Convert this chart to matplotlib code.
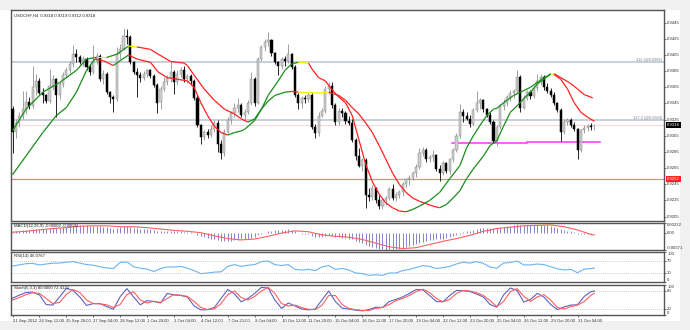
import numpy as np
import matplotlib.pyplot as plt
from matplotlib.collections import LineCollection
from matplotlib.transforms import blended_transform_factory

# USDCHF H4 candles, bar 0 = 21 Sep 2012
opens = [
    .9338, .9310, .9321, .9330, .9338, .9347, .9342, .9365, .9373, .9358,
    .9355, .9348, .9367, .9375, .9355, .9369, .9380, .9386, .9394, .9406,
    .9403, .9396, .9400, .9390, .9384, .9398, .9404, .9375, .9382, .9359,
    .9353, .9351, .9406, .9413, .9429, .9427, .9396, .9384, .9380, .9376,
    .9382, .9386, .9379, .9368, .9347, .9363, .9372, .9376, .9384, .9372,
    .9382, .9387, .9375, .9379, .9373, .9352, .9318, .9303, .9310, .9306,
    .9314, .9321, .9295, .9284, .9310, .9325, .9333, .9340, .9343, .9331,
    .9334, .9346, .9375, .9346, .9400, .9415, .9421, .9423, .9407, .9396,
    .9392, .9400, .9398, .9406, .9390, .9356, .9345, .9352, .9350, .9356,
    .9316, .9309, .9330, .9336, .9363, .9367, .9343, .9322, .9336, .9333,
    .9323, .9321, .9300, .9280, .9268, .9275, .9232, .9229, .9240, .9226,
    .9218, .9225, .9228, .9239, .9228, .9232, .9235, .9245, .9251, .9253,
    .9259, .9267, .9284, .9288, .9276, .9279, .9281, .9264, .9259, .9271,
    .9262, .9276, .9288, .9305, .9334, .9330, .9326, .9320, .9337, .9346,
    .9349, .9338, .9331, .9322, .9299, .9316, .9342, .9346, .9353, .9358,
    .9361, .9378, .9340, .9352, .9359, .9354, .9364, .9373, .9378, .9365,
    .9361, .9356, .9345, .9337, .9310, .9322, .9324, .9318, .9313, .9288,
    .9312, .9315, .9317, .9318,
]
highs = [
    .9342, .9326, .9334, .9361, .9361, .9353, .9392, .9382, .9376, .9364,
    .9357, .9388, .9380, .9377, .9371, .9384, .9390, .9398, .9417, .9412,
    .9405, .9404, .9402, .9394, .9417, .9408, .9406, .9386, .9384, .9361,
    .9356, .9415, .9419, .9439, .9437, .9430, .9398, .9389, .9384, .9385,
    .9388, .9388, .9382, .9370, .9367, .9378, .9380, .9398, .9386, .9386,
    .9390, .9391, .9382, .9381, .9375, .9355, .9320, .9312, .9313, .9318,
    .9325, .9324, .9300, .9314, .9328, .9336, .9345, .9352, .9345, .9338,
    .9349, .9384, .9378, .9403, .9418, .9425, .9433, .9425, .9409, .9398,
    .9402, .9404, .9419, .9408, .9393, .9358, .9354, .9356, .9358, .9358,
    .9320, .9334, .9340, .9367, .9371, .9372, .9345, .9340, .9340, .9336,
    .9330, .9326, .9302, .9290, .9278, .9277, .9241, .9244, .9242, .9232,
    .9228, .9230, .9242, .9246, .9235, .9238, .9248, .9253, .9256, .9262,
    .9270, .9290, .9291, .9290, .9281, .9288, .9283, .9269, .9274, .9273,
    .9278, .9290, .9309, .9344, .9338, .9334, .9331, .9340, .9361, .9352,
    .9351, .9340, .9334, .9324, .9318, .9344, .9350, .9356, .9362, .9363,
    .9386, .9380, .9355, .9362, .9362, .9367, .9382, .9381, .9380, .9370,
    .9364, .9359, .9347, .9339, .9326, .9327, .9327, .9322, .9315, .9314,
    .9318, .9320, .9321, .9319,
]
lows = [
    .9284, .9302, .9316, .9326, .9332, .9338, .9340, .9356, .9357, .9346,
    .9345, .9346, .9362, .9328, .9350, .9366, .9376, .9383, .9390, .9396,
    .9394, .9392, .9387, .9380, .9382, .9394, .9373, .9369, .9357, .9346,
    .9334, .9348, .9400, .9411, .9419, .9394, .9382, .9353, .9372, .9374,
    .9378, .9377, .9365, .9333, .9338, .9360, .9368, .9372, .9357, .9369,
    .9378, .9371, .9370, .9368, .9349, .9316, .9295, .9300, .9302, .9303,
    .9310, .9285, .9276, .9280, .9308, .9320, .9328, .9335, .9328, .9324,
    .9332, .9343, .9342, .9344, .9397, .9410, .9416, .9404, .9394, .9380,
    .9388, .9392, .9395, .9388, .9353, .9338, .9340, .9346, .9347, .9313,
    .9302, .9305, .9328, .9333, .9357, .9340, .9318, .9318, .9328, .9320,
    .9318, .9297, .9275, .9266, .9262, .9216, .9224, .9226, .9222, .9214,
    .9215, .9220, .9225, .9226, .9224, .9228, .9230, .9242, .9244, .9250,
    .9254, .9264, .9280, .9272, .9272, .9274, .9262, .9249, .9256, .9259,
    .9258, .9273, .9285, .9302, .9322, .9324, .9316, .9318, .9334, .9338,
    .9335, .9328, .9320, .9296, .9293, .9314, .9337, .9342, .9348, .9352,
    .9358, .9334, .9338, .9349, .9351, .9352, .9361, .9368, .9362, .9358,
    .9353, .9343, .9334, .9299, .9307, .9318, .9316, .9311, .9276, .9285,
    .9309, .9311, .9312, .9312,
]
closes = [
    .9310, .9321, .9330, .9338, .9347, .9342, .9365, .9373, .9358, .9355,
    .9348, .9367, .9375, .9355, .9369, .9380, .9386, .9394, .9406, .9403,
    .9396, .9400, .9390, .9384, .9398, .9404, .9375, .9382, .9359, .9353,
    .9351, .9406, .9413, .9429, .9427, .9396, .9384, .9380, .9376, .9382,
    .9386, .9379, .9368, .9346, .9363, .9372, .9377, .9384, .9372, .9382,
    .9387, .9375, .9379, .9373, .9352, .9318, .9303, .9310, .9306, .9314,
    .9321, .9295, .9284, .9310, .9325, .9333, .9340, .9343, .9331, .9334,
    .9346, .9375, .9346, .9400, .9415, .9421, .9423, .9407, .9396, .9392,
    .9400, .9398, .9406, .9390, .9356, .9345, .9352, .9350, .9356, .9316,
    .9309, .9330, .9336, .9363, .9367, .9343, .9322, .9336, .9333, .9323,
    .9321, .9300, .9280, .9268, .9275, .9232, .9229, .9240, .9226, .9218,
    .9225, .9228, .9239, .9228, .9232, .9235, .9245, .9251, .9253, .9259,
    .9267, .9284, .9288, .9276, .9279, .9281, .9264, .9259, .9271, .9262,
    .9276, .9288, .9305, .9334, .9330, .9326, .9320, .9337, .9346, .9349,
    .9338, .9331, .9322, .9299, .9316, .9342, .9346, .9353, .9358, .9361,
    .9378, .9340, .9352, .9359, .9354, .9364, .9373, .9378, .9365, .9361,
    .9356, .9345, .9337, .9310, .9322, .9324, .9318, .9313, .9288, .9312,
    .9315, .9317, .9316, .9318,
]

# two slope-coloured moving averages, sampled at the bars given
ma_fast_bars = [0, 4, 9, 13, 16, 19, 22, 24.5, 27, 30, 32, 34.5, 37, 41, 43.3, 46, 49, 52,
                54, 56, 58, 60, 62, 64, 66, 68, 69, 72, 74, 76, 79, 81, 83, 85, 88, 89,
                91, 93, 95, 97, 99, 101, 103, 105, 107, 109, 111, 113, 115, 117, 119, 121,
                124, 127, 130, 133, 135, 137, 139, 141, 143, 144, 146, 149, 152, 154, 156,
                158, 160, 161, 163, 165, 167, 169, 171, 173]
ma_fast = [.9257, .9280, .9309, .9330, .9340, .9359, .9386, .9400, .9398, .9392, .9398,
           .9405, .9400, .9396, .9384, .9377, .9375, .9373, .9365, .9346, .9330, .9317,
           .9309, .9306, .9309, .9311, .9313, .9324, .9338, .9355, .9373, .9386, .9394,
           .9396, .9395, .9388, .9377, .9373, .9362, .9353, .9346, .9330, .9300, .9270,
           .9248, .9233, .9222, .9216, .9212, .9211, .9214, .9218, .9225, .9235, .9252,
           .9268, .9290, .9305, .9318, .9330, .9338, .9339, .9346, .9355, .9361, .9365,
           .9371, .9377, .9381, .9381, .9375, .9363, .9346, .9334, .9328, .9323]
ma_slow_bars = [0, 4, 9, 14, 19, 22, 25, 28, 31, 34.5, 37, 41, 43.3, 45, 47, 49, 51, 52,
                54, 57, 60, 63, 66, 68, 70, 72, 74, 76, 78, 81, 83, 85, 88, 91, 94, 97,
                99, 101, 103, 105, 107, 109, 111, 113, 115, 117, 119, 121, 123, 125, 127,
                129, 131, 133, 135, 137, 140, 142, 144, 146, 148, 150, 152, 154, 156, 158,
                160, 161, 163, 165.5, 168, 170, 172.5]
ma_slow = [.9311, .9338, .9359, .9371, .9386, .9400, .9402, .9402, .9406, .9416, .9415,
           .9412, .9406, .9402, .9397, .9396, .9395, .9392, .9380, .9363, .9349, .9338,
           .9332, .9326, .9322, .9326, .9338, .9348, .9355, .9359, .9360, .9359, .9359,
           .9358, .9359, .9355, .9349, .9340, .9332, .9321, .9309, .9293, .9276, .9259,
           .9245, .9235, .9228, .9224, .9221, .9218, .9216, .9220, .9228, .9237, .9252,
           .9264, .9280, .9293, .9299, .9317, .9334, .9342, .9351, .9359, .9369, .9375,
           .9382, .9382, .9377, .9371, .9363, .9356, .9352]

# MACD(12,26,9): main line per bar, signal line sampled every 4 bars
macd_main = [
    .0003, .0004, .0005, .0006, .0007, .0007, .0009, .0010, .0010, .0010,
    .0010, .0011, .0012, .0011, .0012, .0013, .0014, .0015, .0016, .0017,
    .0017, .0017, .0017, .0016, .0016, .0016, .0015, .0014, .0013, .0011,
    .0010, .0011, .0013, .0015, .0016, .0014, .0012, .0011, .0010, .0009,
    .0009, .0008, .0007, .0005, .0005, .0005, .0005, .0005, .0004, .0004,
    .0004, .0003, .0003, .0002, .0000, -.0004, -.0007, -.0009, -.0011, -.0012,
    -.0012, -.0015, -.0018, -.0018, -.0017, -.0017, -.0016, -.0015, -.0014, -.0013,
    -.0012, -.0010, -.0008, -.0005, -.0002, .0001, .0004, .0005, .0006, .0006,
    .0007, .0007, .0008, .0007, .0004, .0001, -.0001, -.0002, -.0003, -.0006,
    -.0008, -.0008, -.0008, -.0006, -.0005, -.0006, -.0008, -.0009, -.0010, -.0011,
    -.0012, -.0014, -.0017, -.0020, -.0022, -.0026, -.0029, -.0031, -.0033, -.0035,
    -.0036, -.0037, -.0036, -.0036, -.0035, -.0034, -.0032, -.0031, -.0029, -.0027,
    -.0025, -.0022, -.0020, -.0018, -.0016, -.0015, -.0014, -.0013, -.0012, -.0011,
    -.0009, -.0007, -.0004, -.0001, .0002, .0004, .0005, .0007, .0009, .0011,
    .0012, .0012, .0012, .0011, .0011, .0013, .0014, .0015, .0016, .0017,
    .0019, .0018, .0017, .0017, .0017, .0017, .0018, .0018, .0018, .0017,
    .0016, .0014, .0012, .0009, .0007, .0005, .0004, .0002, -.0001, -.0002,
    -.0002, -.0002, -.0001, -.00002,
]
macd_signal_bars = [0, 4, 8, 12, 16, 20, 24, 28, 32, 36, 40, 44, 48, 52, 56, 60, 64, 68,
                    72, 76, 80, 84, 88, 92, 96, 100, 104, 108, 112, 116, 120, 124, 128,
                    132, 136, 140, 144, 148, 152, 156, 160, 164, 168, 172, 173]
macd_signal = [.0002, .0004, .0007, .0010, .0012, .0015, .0016, .0016, .0014, .0014,
               .0012, .0009, .0006, .0004, .0001, -.0006, -.0012, -.0015, -.0013, -.0007,
               .0000, .0005, .0003, -.0004, -.0007, -.0009, -.0014, -.0022, -.0030,
               -.0034, -.0032, -.0025, -.0018, -.0012, -.0005, .0004, .0010, .0013,
               .0016, .0017, .0018, .0014, .0007, -.0003, -.00041]

# RSI(14) and Stoch(5,3,3), sampled every 2 bars
osc_bars = list(range(0, 173, 2)) + [173]
rsi = [53, 57, 61, 62, 57, 60, 63, 63, 66, 68, 63, 58, 56, 51, 47, 45, 65, 67, 51, 46,
       43, 35, 45, 50, 50, 52, 46, 38, 28, 30, 33, 34, 52, 58, 52, 56, 58, 68, 70, 58,
       55, 58, 42, 40, 42, 38, 50, 55, 42, 45, 40, 30, 28, 22, 24, 22, 30, 30, 38, 42,
       48, 55, 52, 45, 48, 52, 60, 66, 63, 68, 62, 50, 46, 63, 65, 70, 57, 57, 60, 58,
       51, 44, 40, 42, 31, 43, 45, 46.0767]
stoch_main = [56, 66, 75, 76, 67, 35, 33, 60, 89, 82, 60, 32, 38, 38, 28, 19, 61, 88, 60,
              34, 48, 45, 40, 72, 67, 65, 60, 30, 17, 18, 25, 55, 85, 70, 44, 55, 72, 92,
              90, 50, 22, 40, 30, 20, 17, 20, 50, 80, 45, 23, 20, 16, 14, 18, 26, 25, 45,
              52, 60, 72, 85, 84, 65, 45, 44, 65, 82, 81, 78, 70, 60, 35, 26, 67, 90, 82,
              43, 52, 72, 60, 35, 18, 27, 33, 34, 62, 78, 80.0]
stoch_signal = [50, 58, 68, 74, 72, 55, 38, 42, 68, 85, 75, 50, 38, 37, 34, 25, 35, 68, 78,
                50, 40, 46, 42, 55, 68, 66, 62, 45, 25, 18, 20, 38, 68, 80, 58, 50, 62, 80,
                92, 72, 38, 30, 33, 25, 19, 18, 32, 65, 65, 35, 22, 18, 15, 15, 22, 25, 35,
                48, 55, 65, 78, 86, 75, 55, 44, 52, 72, 82, 80, 74, 65, 48, 28, 45, 78, 88,
                62, 45, 60, 68, 50, 25, 20, 28, 33, 45, 66, 72.4131]

price_ticks = [0.9445, 0.9425, 0.9405, 0.9385, 0.9365, 0.9345, 0.9325, 0.9305,
               0.9285, 0.9265, 0.9245, 0.9225, 0.9205]
date_labels = ['21 Sep 2012', '24 Sep 12:00', '25 Sep 20:00', '27 Sep 04:00', '28 Sep 12:00',
               '1 Oct 20:00', '3 Oct 04:00', '4 Oct 12:00', '7 Oct 21:00', '9 Oct 04:00',
               '10 Oct 12:00', '11 Oct 20:00', '15 Oct 04:00', '16 Oct 12:00', '17 Oct 20:00',
               '19 Oct 04:00', '22 Oct 12:00', '23 Oct 20:00', '25 Oct 04:00', '26 Oct 12:00',
               '29 Oct 20:00', '31 Oct 04:00']

W, H = 690, 330
FS = 3.1
plt.rcParams['font.family'] = ['Liberation Sans', 'DejaVu Sans']

fig = plt.figure(figsize=(W / 100, H / 100), dpi=100, facecolor='#f0f0f0')
fig.patches.append(plt.Rectangle((0, 1 - 321 / H), 680 / W, 311 / H, transform=fig.transFigure,
                                 facecolor='white', edgecolor='none', zorder=-10))


def panel(y0, y1):
    ax = fig.add_axes([11 / W, 1 - y1 / H, (664 - 11) / W, (y1 - y0) / H])
    ax.set_xlim(-0.45, 193.7)
    ax.set_xticks([])
    for s in ax.spines.values():
        s.set_color('#555555')
        s.set_linewidth(1.0)
    ax.yaxis.tick_right()
    ax.tick_params(axis='y', length=1.5, width=0.5, labelright=False, color='#303030')
    return ax


def right_labels(ax, values, texts):
    """Tick marks plus price-scale labels; edge labels are tucked inside the window."""
    ax.set_yticks(values)
    lo, hi = ax.get_ylim()
    tr = blended_transform_factory(ax.transAxes, ax.transData)
    for v, t in zip(values, texts):
        va = 'top' if v >= hi else ('bottom' if v <= lo else 'center')
        ax.text(1.005, v, t, transform=tr, ha='left', va=va, fontsize=FS,
                color='#303030', clip_on=False)


def slope_line(ax, xs, ys):
    xs = np.asarray(xs, float)
    ys = np.asarray(ys, float)
    segs = np.stack([np.column_stack([xs[:-1], ys[:-1]]), np.column_stack([xs[1:], ys[1:]])], axis=1)
    slope = np.diff(ys) / np.diff(xs)
    cols = np.where(slope > 0.00004, '#1a8c1a', np.where(slope < -0.00004, '#ff2020', '#f2f200'))
    ax.add_collection(LineCollection(segs, colors=cols, linewidths=0.9, zorder=4))


idx = np.arange(len(closes))
o = np.array(opens)
c = np.array(closes)
up = c >= o

# main price window
ax = panel(10, 221)
ax.set_ylim(0.91996, 0.94607)
right_labels(ax, price_ticks, [f'{p:.4f}' for p in price_ticks])
blend = blended_transform_factory(ax.transAxes, ax.transData)

ax.axhline(0.9396, color='#b8c4d0', lw=1.1, zorder=1)
ax.axhline(0.9324, color='#b8c4d0', lw=1.1, zorder=1)
ax.axhline(0.9318, color='#f0d0d0', lw=0.6, zorder=1)
ax.axhline(0.9252, color='#ff8080', lw=0.9, zorder=1)
ax.plot([130.7, 153], [0.92956, 0.92956], color='#ff30ff', lw=1.1, zorder=2)
ax.plot([153, 174.7], [0.92968, 0.92968], color='#ff30ff', lw=1.1, zorder=2)
ax.text(0.997, 0.9396, '112 (@0.9396)', transform=blend, ha='right', va='bottom',
        fontsize=2.8, color='#7a7a8a')
ax.text(0.997, 0.9324, '127.2 (@0.9324)', transform=blend, ha='right', va='bottom',
        fontsize=2.8, color='#7a7a8a')

ax.vlines(idx, lows, highs, colors=np.where(up, '#909090', '#000000'), lw=0.6, zorder=3)
body = np.maximum(np.abs(c - o), 0.00004)
ax.bar(idx, body, bottom=np.minimum(o, c), width=0.62,
       color=np.where(up, '#cfcfcf', '#000000'), edgecolor=np.where(up, '#888888', '#000000'),
       lw=0.35, zorder=3)

slope_line(ax, ma_slow_bars, ma_slow)
slope_line(ax, ma_fast_bars, ma_fast)

ax.text(0.004, 0.985, 'USDCHF,H4  0.9318 0.9319 0.9312 0.9318', transform=ax.transAxes,
        ha='left', va='top', fontsize=FS, color='#202020')
ax.text(1.005, 0.9318, '0.9318', transform=blend, ha='left', va='center', fontsize=FS,
        color='white', clip_on=False, zorder=6,
        bbox=dict(boxstyle='square,pad=0.25', fc='black', ec='none'))
ax.text(1.005, 0.9252, '0.9252', transform=blend, ha='left', va='center', fontsize=FS,
        color='white', clip_on=False, zorder=6,
        bbox=dict(boxstyle='square,pad=0.25', fc='#ff2020', ec='none'))

# MACD window
ax2 = panel(223, 250)
ax2.set_ylim(-0.00371, 0.00222)
ax2.vlines(idx, 0, macd_main, colors='#6f6fc8', lw=0.6)
ax2.plot(macd_signal_bars, macd_signal, color='#ff6060', lw=0.8)
right_labels(ax2, [0.00222, 0.0, -0.00371], ['0.00222', '0.00', '-0.00371'])
ax2.text(0.004, 0.95, 'MACD(12,26,9) -0.00002 -0.00041', transform=ax2.transAxes,
         ha='left', va='top', fontsize=FS, color='#202020')

# RSI window
ax3 = panel(252, 282)
ax3.set_ylim(0, 100)
for lvl in (70, 30):
    ax3.axhline(lvl, color='#a0a0a0', lw=0.5, ls=(0, (1, 2)))
ax3.plot(osc_bars, rsi, color='#6cb4ee', lw=0.8)
right_labels(ax3, [100, 70, 30, 0], ['100', '70', '30', '0'])
ax3.text(0.004, 0.95, 'RSI(14) 46.0767', transform=ax3.transAxes,
         ha='left', va='top', fontsize=FS, color='#202020')

# Stochastic window
ax4 = panel(285, 315)
ax4.set_ylim(0, 100)
for lvl in (80, 20):
    ax4.axhline(lvl, color='#a0a0a0', lw=0.5, ls=(0, (1, 2)))
ax4.plot(osc_bars, stoch_main, color='#6060c0', lw=0.8)
ax4.plot(osc_bars, stoch_signal, color='#ff6060', lw=0.8)
right_labels(ax4, [100, 80, 20, 0], ['100', '80', '20', '0'])
ax4.text(0.004, 0.95, 'Stoch(5,3,3) 80.0000 72.4131', transform=ax4.transAxes,
         ha='left', va='top', fontsize=FS, color='#202020')
ax4.set_xticks(np.arange(len(date_labels)) * 8)
ax4.set_xticklabels(date_labels)
ax4.tick_params(axis='x', labelsize=FS, length=1.5, width=0.5, pad=1.2, colors='#303030')
for lab in ax4.get_xticklabels():
    lab.set_ha('left')

fig.savefig('out.png', dpi=100, facecolor=fig.get_facecolor())
